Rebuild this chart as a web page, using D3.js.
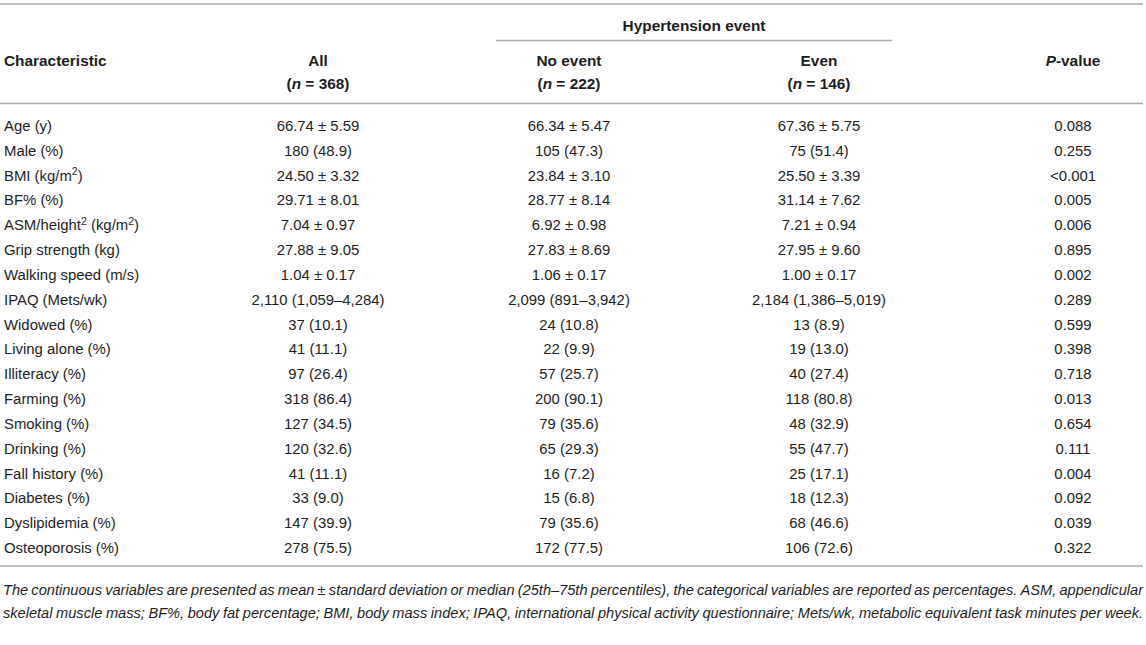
<!DOCTYPE html>
<html>
<head>
<meta charset="utf-8">
<script src="https://cdn.jsdelivr.net/npm/d3@7"></script>
<style>
  html, body { margin: 0; padding: 0; background: #fff; }
  svg { display: block; font-family: "Liberation Sans", Arial, Helvetica, sans-serif; }
</style>
</head>
<body>
<svg id="tbl" width="1146" height="645"></svg>
<script>
// table content, "^2" marks a superscript 2
var characteristics = ["Age (y)", "Male (%)", "BMI (kg/m^2)", "BF% (%)", "ASM/height^2 (kg/m^2)",
  "Grip strength (kg)", "Walking speed (m/s)", "IPAQ (Mets/wk)", "Widowed (%)", "Living alone (%)",
  "Illiteracy (%)", "Farming (%)", "Smoking (%)", "Drinking (%)", "Fall history (%)",
  "Diabetes (%)", "Dyslipidemia (%)", "Osteoporosis (%)"];
var allValues = ["66.74 ± 5.59", "180 (48.9)", "24.50 ± 3.32", "29.71 ± 8.01", "7.04 ± 0.97",
  "27.88 ± 9.05", "1.04 ± 0.17", "2,110 (1,059–4,284)", "37 (10.1)", "41 (11.1)",
  "97 (26.4)", "318 (86.4)", "127 (34.5)", "120 (32.6)", "41 (11.1)",
  "33 (9.0)", "147 (39.9)", "278 (75.5)"];
var noEventValues = ["66.34 ± 5.47", "105 (47.3)", "23.84 ± 3.10", "28.77 ± 8.14", "6.92 ± 0.98",
  "27.83 ± 8.69", "1.06 ± 0.17", "2,099 (891–3,942)", "24 (10.8)", "22 (9.9)",
  "57 (25.7)", "200 (90.1)", "79 (35.6)", "65 (29.3)", "16 (7.2)",
  "15 (6.8)", "79 (35.6)", "172 (77.5)"];
var eventValues = ["67.36 ± 5.75", "75 (51.4)", "25.50 ± 3.39", "31.14 ± 7.62", "7.21 ± 0.94",
  "27.95 ± 9.60", "1.00 ± 0.17", "2,184 (1,386–5,019)", "13 (8.9)", "19 (13.0)",
  "40 (27.4)", "118 (80.8)", "48 (32.9)", "55 (47.7)", "25 (17.1)",
  "18 (12.3)", "68 (46.6)", "106 (72.6)"];
var pValues = ["0.088", "0.255", "<0.001", "0.005", "0.006", "0.895", "0.002", "0.289", "0.599",
  "0.398", "0.718", "0.013", "0.654", "0.111", "0.004", "0.092", "0.039", "0.322"];
var columnNames = ["All", "No event", "Even", "P-value"];
var columnNs = ["368", "222", "146", ""];
var groupTitle = "Hypertension event";
var footnoteLines = [
  "The continuous variables are presented as mean ± standard deviation or median (25th–75th percentiles), the categorical variables are reported as percentages. ASM, appendicular",
  "skeletal muscle mass; BF%, body fat percentage; BMI, body mass index; IPAQ, international physical activity questionnaire; Mets/wk, metabolic equivalent task minutes per week."
];

var svg = d3.select('#tbl');
var ink = "#1e1e1e", rule = "#a8a8a8";
var bodySize = "14.9px", headSize = "15.4px";

var y = d3.scalePoint().domain(characteristics).range([131, 553]);
var x = d3.scaleOrdinal().domain(columnNames).range([318, 569, 819, 1073]);
var columns = [allValues, noEventValues, eventValues, pValues];

function addLabel(sel, label) {
  var parts = label.split("^2");
  var shift = 0;
  parts.forEach(function(p, i) {
    var t = sel.append("tspan").text(p);
    if (shift) { t.attr("dy", shift); shift = 0; }
    if (i < parts.length - 1) {
      sel.append("tspan").attr("font-size", "10.5px").attr("dy", -5.5).text("2");
      shift = 5.5;
    }
  });
}

// rules
function hline(x1, x2, yy) {
  svg.append("line").attr("x1", x1).attr("x2", x2).attr("y1", yy).attr("y2", yy)
    .attr("stroke", rule).attr("stroke-width", 1.6);
}
hline(0, 1143, 4);
hline(496, 892, 40.5);
hline(0, 1143, 103.5);
hline(0, 1143, 566);

// header
svg.append("text").attr("x", (496 + 892) / 2).attr("y", 30.5).attr("text-anchor", "middle")
  .attr("font-size", headSize).attr("font-weight", "bold").attr("fill", ink).text(groupTitle);
svg.append("text").attr("x", 4).attr("y", 65.5)
  .attr("font-size", headSize).attr("font-weight", "bold").attr("fill", ink).text("Characteristic");

var head = svg.selectAll(".colhead").data(columnNames).enter().append("g").attr("class", "colhead");
head.append("text").attr("x", function(d) { return x(d); }).attr("y", 65.5)
  .attr("text-anchor", "middle").attr("font-size", headSize).attr("font-weight", "bold").attr("fill", ink)
  .each(function(d) {
    var t = d3.select(this);
    if (d === "P-value") {
      t.append("tspan").attr("font-style", "italic").text("P");
      t.append("tspan").text("-value");
    } else t.text(d);
  });
head.filter(function(d, i) { return columnNs[i] !== ""; })
  .append("text").attr("x", function(d) { return x(d); }).attr("y", 88.5)
  .attr("text-anchor", "middle").attr("font-size", headSize).attr("font-weight", "bold").attr("fill", ink)
  .each(function(d) {
    var t = d3.select(this), n = columnNs[columnNames.indexOf(d)];
    t.append("tspan").text("(");
    t.append("tspan").attr("font-style", "italic").text("n");
    t.append("tspan").text(" = " + n + ")");
  });

// body
svg.selectAll(".rowlabel").data(characteristics).enter().append("text")
  .attr("class", "rowlabel").attr("x", 4).attr("y", function(d) { return y(d); })
  .attr("font-size", bodySize).attr("fill", ink)
  .each(function(d) { addLabel(d3.select(this), d); });

columns.forEach(function(vals, ci) {
  svg.selectAll(".cell" + ci).data(vals).enter().append("text")
    .attr("class", "cell" + ci)
    .attr("x", x(columnNames[ci]))
    .attr("y", function(d, i) { return y(characteristics[i]); })
    .attr("text-anchor", "middle").attr("font-size", bodySize).attr("fill", ink)
    .text(function(d) { return d; });
});

// footnote, justified word by word
footnoteLines.forEach(function(line, li) {
  var words = line.split(" ");
  var g = svg.append("g");
  var widths = [];
  words.forEach(function(w) {
    var t = g.append("text").attr("font-size", "14.6px").attr("font-style", "italic").attr("fill", ink)
      .attr("y", 595 + li * 22.5).text(w);
    widths.push(t.node().getComputedTextLength());
  });
  var x0 = 3, x1 = 1143;
  var gap = (x1 - x0 - d3.sum(widths)) / (words.length - 1);
  var cx = x0;
  g.selectAll("text").each(function(d, i) {
    d3.select(this).attr("x", cx);
    cx += widths[i] + gap;
  });
});
</script>
</body>
</html>
